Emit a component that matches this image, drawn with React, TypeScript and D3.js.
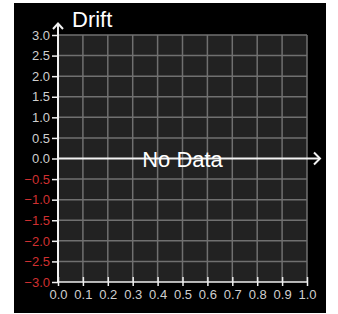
import React, { useEffect, useRef } from "react";
import * as d3 from "d3";

const xTicks = [0, 0.1, 0.2, 0.3, 0.4, 0.5, 0.6, 0.7, 0.8, 0.9, 1.0];
const yTicks = [3.0, 2.5, 2.0, 1.5, 1.0, 0.5, 0.0, -0.5, -1.0, -1.5, -2.0, -2.5, -3.0];
const xDomain = [0, 1];
const yDomain = [-3, 3];
const axisTitle = "Drift";
const emptyMessage = "No Data";

const App = () => {
	const ref = useRef<SVGSVGElement>(null);

	useEffect(() => {
		const width = 338;
		const height = 314;
		const margin = { top: 35, right: 31, bottom: 32, left: 58 };
		const font = "'Liberation Sans', Arial, sans-serif";

		const svg = d3.select(ref.current);
		svg.selectAll("*").remove();

		svg.append("rect").attr("x", 14).attr("y", 3).attr("width", 312).attr("height", 310).attr("fill", "#000");

		const x = d3
			.scaleLinear()
			.domain(xDomain)
			.range([margin.left, width - margin.right]);
		const y = d3
			.scaleLinear()
			.domain(yDomain)
			.range([height - margin.bottom, margin.top]);

		svg
			.append("rect")
			.attr("x", x(0))
			.attr("y", y(3))
			.attr("width", x(1) - x(0))
			.attr("height", y(-3) - y(3))
			.attr("fill", "#222");

		// grid
		const grid = svg.append("g").attr("stroke", "#707070").attr("stroke-width", 1.5);
		grid
			.selectAll("line.v")
			.data(xTicks.slice(1))
			.join("line")
			.attr("x1", (d) => x(d))
			.attr("x2", (d) => x(d))
			.attr("y1", y(3))
			.attr("y2", y(-3));
		grid
			.selectAll("line.h")
			.data(yTicks.filter((d) => d !== 0 && d !== -3))
			.join("line")
			.attr("x1", x(0))
			.attr("x2", x(1))
			.attr("y1", (d) => y(d))
			.attr("y2", (d) => y(d));

		// y axis
		const yAxis = svg
			.append("g")
			.attr("transform", `translate(${x(0)},0)`)
			.call(
				d3
					.axisLeft(y)
					.tickValues(yTicks)
					.tickSize(6)
					.tickPadding(2)
					.tickFormat((d) => d3.format(".1f")(d as number))
			);
		yAxis.select(".domain").remove();
		yAxis.selectAll(".tick line").attr("stroke", "#eee").attr("stroke-width", 1.5);
		yAxis
			.selectAll(".tick text")
			.attr("font-family", font)
			.attr("font-size", 13)
			.attr("fill", (d) => ((d as number) < 0 ? "#d03030" : "#cfcfcf"));

		// x axis (bottom)
		const xAxis = svg
			.append("g")
			.attr("transform", `translate(0,${y(-3)})`)
			.call(
				d3
					.axisBottom(x)
					.tickValues(xTicks)
					.tickSize(-5)
					.tickPadding(8)
					.tickFormat((d) => d3.format(".1f")(d as number))
			);
		xAxis.select(".domain").attr("stroke", "#eee").attr("stroke-width", 1.5).attr("d", `M${x(0)},0H${x(1)}`);
		xAxis.selectAll(".tick line").attr("stroke", "#eee").attr("stroke-width", 1.5).attr("y2", 4).attr("y1", -5);
		xAxis
			.selectAll(".tick text")
			.attr("font-family", font)
			.attr("font-size", 13)
			.attr("fill", "#cfcfcf");

		// main axes with arrows
		const axisColor = "#f2f2f2";
		svg
			.append("line")
			.attr("x1", x(0))
			.attr("x2", x(0))
			.attr("y1", y(-3) + 1)
			.attr("y2", 23)
			.attr("stroke", axisColor)
			.attr("stroke-width", 2);
		svg
			.append("path")
			.attr("d", `M${x(0) - 5},29L${x(0)},23.5L${x(0) + 5},29`)
			.attr("fill", "none")
			.attr("stroke", axisColor)
			.attr("stroke-width", 2);
		svg
			.append("line")
			.attr("x1", x(0))
			.attr("x2", 320)
			.attr("y1", y(0))
			.attr("y2", y(0))
			.attr("stroke", axisColor)
			.attr("stroke-width", 2);
		svg
			.append("path")
			.attr("d", `M314,${y(0) - 6}L320,${y(0)}L314,${y(0) + 6}`)
			.attr("fill", "none")
			.attr("stroke", axisColor)
			.attr("stroke-width", 2);

		svg
			.append("text")
			.attr("x", 72)
			.attr("y", 27)
			.attr("font-family", font)
			.attr("font-size", 22)
			.attr("fill", "#fff")
			.text(axisTitle);

		svg
			.append("text")
			.attr("x", (x(0) + x(1)) / 2)
			.attr("y", y(0) + 8)
			.attr("text-anchor", "middle")
			.attr("font-family", font)
			.attr("font-size", 22)
			.attr("fill", "#fff")
			.text(emptyMessage);
	}, []);

	return (
		<svg
			ref={ref}
			width={338}
			height={314}
			style={{ position: "absolute", left: 0, top: 0, display: "block", background: "#fff" }}
		/>
	);
};

export default App;
